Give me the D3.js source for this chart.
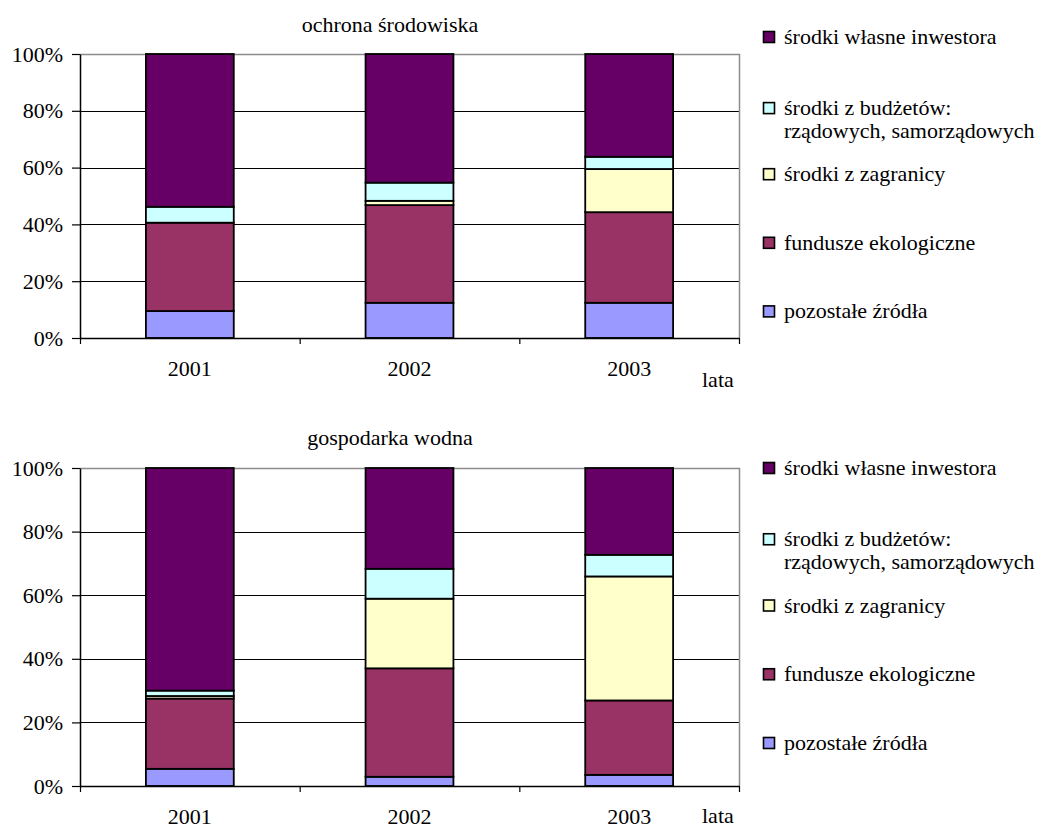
<!DOCTYPE html>
<html>
<head>
<meta charset="utf-8">
<script src="https://cdn.jsdelivr.net/npm/d3@7"></script>
<style>
  html, body { margin: 0; padding: 0; background: #fff; }
  svg { display: block; }
  text { font-family: "Liberation Serif", "Times New Roman", serif; font-size: 22px; fill: #000; }
</style>
</head>
<body>
<svg id="chart" width="1040" height="830"></svg>
<script>
// Years on the category axis
const years = ["2001", "2002", "2003"];

// Funding sources, stacked from the bottom up
const sourceKeys = ["pozostale", "fundusze", "zagranica", "budzet", "wlasne"];
const sourceLabels = {
  wlasne: ["środki własne inwestora"],
  budzet: ["środki z budżetów:", "rządowych, samorządowych"],
  zagranica: ["środki z zagranicy"],
  fundusze: ["fundusze ekologiczne"],
  pozostale: ["pozostałe źródła"]
};
const sourceColors = {
  wlasne: "#660066",
  budzet: "#CCFFFF",
  zagranica: "#FFFFCC",
  fundusze: "#993366",
  pozostale: "#9999FF"
};

// Shares (%) – ochrona środowiska
const ochronaPozostale = [9.5, 12.4, 12.4];
const ochronaFundusze  = [31.1, 34.4, 31.9];
const ochronaZagranica = [0.0, 1.5, 15.2];
const ochronaBudzet    = [5.6, 6.4, 4.3];
const ochronaWlasne    = [53.8, 45.3, 36.2];

// Shares (%) – gospodarka wodna
const wodnaPozostale = [5.4, 2.9, 3.5];
const wodnaFundusze  = [22.1, 34.1, 23.4];
const wodnaZagranica = [0.8, 21.9, 39.0];
const wodnaBudzet    = [1.7, 9.4, 6.8];
const wodnaWlasne    = [70.0, 31.7, 27.3];

// Y axis tick values
const yTicks = [0, 0.2, 0.4, 0.6, 0.8, 1.0];

const xAxisName = "lata";

function buildRows(pozostale, fundusze, zagranica, budzet, wlasne) {
  return years.map((y, i) => ({
    year: y,
    pozostale: pozostale[i],
    fundusze: fundusze[i],
    zagranica: zagranica[i],
    budzet: budzet[i],
    wlasne: wlasne[i]
  }));
}

const svg = d3.select("#chart");
const plotLeft = 80, plotRight = 739;

function drawPanel(cfg) {
  const rows = cfg.rows;
  const g = svg.append("g");

  const x = d3.scaleBand().domain(years).range([plotLeft, plotRight])
    .paddingInner(0.6).paddingOuter(0.3);
  const xEdges = d3.scaleLinear().domain([0, years.length]).range([plotLeft, plotRight]);
  const y = d3.scaleLinear().domain([0, 1]).range([cfg.bottom, cfg.top]);

  // horizontal gridlines
  g.append("g").selectAll("line")
    .data(yTicks.filter(t => t > 0 && t < 1))
    .join("line")
    .attr("x1", plotLeft).attr("x2", plotRight)
    .attr("y1", d => Math.round(y(d)) + 0.5).attr("y2", d => Math.round(y(d)) + 0.5)
    .attr("stroke", "#000").attr("stroke-width", 1);

  // top and right frame of the plot area
  g.append("path")
    .attr("d", `M${plotLeft},${Math.round(y(1)) + 0.5}H${plotRight + 0.5}V${cfg.bottom}`)
    .attr("fill", "none").attr("stroke", "#8c8c8c").attr("stroke-width", 1.5);

  // stacked bars
  const stacked = d3.stack().keys(sourceKeys).offset(d3.stackOffsetExpand)(rows);
  g.append("g").selectAll("g")
    .data(stacked)
    .join("g")
    .attr("fill", d => sourceColors[d.key])
    .selectAll("rect")
    .data(d => d)
    .join("rect")
    .attr("x", d => x(d.data.year))
    .attr("width", x.bandwidth())
    .attr("y", d => y(d[1]))
    .attr("height", d => Math.max(0, y(d[0]) - y(d[1])))
    .attr("stroke", "#000").attr("stroke-width", 1.8);

  // y axis
  const yAxis = g.append("g")
    .attr("transform", `translate(${plotLeft},0)`)
    .call(d3.axisLeft(y).tickValues(yTicks).tickFormat(d3.format(".0%"))
      .tickSize(8).tickPadding(9).tickSizeOuter(0));
  yAxis.select(".domain").attr("stroke", "#000").attr("stroke-width", 1.5);
  yAxis.selectAll(".tick line").attr("stroke", "#000").attr("stroke-width", 1.2);
  yAxis.selectAll("text").attr("font-size", 22);

  // x axis: tick marks on category boundaries
  const xAxisTicks = g.append("g")
    .attr("transform", `translate(0,${cfg.bottom})`)
    .call(d3.axisBottom(xEdges).tickValues(d3.range(years.length + 1))
      .tickFormat("").tickSize(6).tickSizeOuter(0));
  xAxisTicks.select(".domain").attr("stroke", "#000").attr("stroke-width", 1.5);
  xAxisTicks.selectAll(".tick line").attr("stroke", "#000").attr("stroke-width", 1.2);

  // x axis: year labels centred under bars
  const xAxisLabels = g.append("g")
    .attr("transform", `translate(0,${cfg.bottom})`)
    .call(d3.axisBottom(x).tickSize(0).tickPadding(22));
  xAxisLabels.select(".domain").remove();
  xAxisLabels.selectAll("text").attr("font-size", 22);

  // axis name
  g.append("text")
    .attr("x", 702).attr("y", cfg.nameY)
    .text(xAxisName);

  // title
  g.append("text")
    .attr("x", 390).attr("y", cfg.titleY)
    .attr("text-anchor", "middle")
    .text(cfg.title);

  // legend
  const legendOrder = sourceKeys.slice().reverse();
  const lg = g.append("g");
  legendOrder.forEach((key, i) => {
    const lines = sourceLabels[key];
    const base = cfg.legendY0 + i * cfg.legendStep + (lines.length > 1 ? 2.5 : 0);
    lg.append("rect")
      .attr("x", 763.5).attr("y", base - 12.5)
      .attr("width", 11).attr("height", 11)
      .attr("fill", sourceColors[key])
      .attr("stroke", "#000").attr("stroke-width", 1.6);
    const t = lg.append("text").attr("x", 784).attr("y", base);
    lines.forEach((ln, j) => {
      t.append("tspan").attr("x", 784).attr("y", base + j * 23).text(ln);
    });
  });
}

drawPanel({
  title: "ochrona środowiska",
  rows: buildRows(ochronaPozostale, ochronaFundusze, ochronaZagranica, ochronaBudzet, ochronaWlasne),
  top: 54, bottom: 338, titleY: 32, nameY: 387,
  legendY0: 44, legendStep: 68.6
});

drawPanel({
  title: "gospodarka wodna",
  rows: buildRows(wodnaPozostale, wodnaFundusze, wodnaZagranica, wodnaBudzet, wodnaWlasne),
  top: 468, bottom: 786, titleY: 445, nameY: 823,
  legendY0: 475, legendStep: 68.75
});
</script>
</body>
</html>
